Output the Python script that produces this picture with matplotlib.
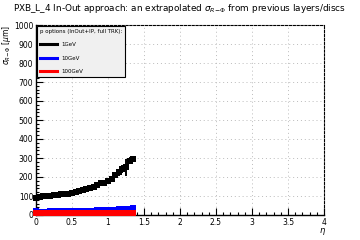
import numpy as np
import matplotlib.pyplot as plt
from matplotlib.ticker import MultipleLocator, AutoMinorLocator, FuncFormatter

eta = [0.00, 0.05, 0.10, 0.15, 0.20, 0.25, 0.30, 0.35, 0.40, 0.45,
       0.50, 0.55, 0.60, 0.65, 0.70, 0.75, 0.80, 0.85, 0.90, 0.95,
       1.00, 1.05, 1.10, 1.15, 1.20, 1.25, 1.30, 1.35]
sig_1gev = [92, 97, 98, 100, 101, 103, 105, 108, 110, 112,
            117, 121, 126, 131, 137, 143, 149, 157, 166, 168,
            180, 190, 210, 225, 243, 252, 285, 295]
err_1gev = [8, 8, 7, 7, 7, 7, 8, 8, 8, 8,
            9, 9, 9, 10, 10, 10, 11, 11, 12, 15,
            14, 15, 16, 18, 20, 45, 18, 15]
sig_10gev = [20, 15, 18, 16, 19, 20, 20, 20, 21, 21,
             21, 22, 22, 22, 23, 23, 23, 24, 25, 26,
             27, 27, 28, 29, 31, 33, 32, 35]
err_10gev = [3] * 28
sig_100gev = [10, 9, 9, 9, 9, 9, 9, 9, 10, 10,
              10, 10, 10, 10, 10, 10, 10, 10, 10, 10,
              10, 10, 10, 10, 10, 11, 11, 11]
err_100gev = [3] * 28

labels = ["1GeV", "10GeV", "100GeV"]
colors = ["black", "#0000ff", "#ff0000"]

fig = plt.figure(figsize=(3.6, 2.4), dpi=100)
ax = fig.add_axes([36 / 360, 25 / 240, 288 / 360, 190 / 240])

series = [(sig_1gev, err_1gev), (sig_10gev, err_10gev), (sig_100gev, err_100gev)]
handles = []
for (y, e), c, lab in zip(series, colors, labels):
    ax.errorbar(eta, y, yerr=e, fmt="s", color=c, ms=4.6, mew=0,
                elinewidth=1.4, capsize=0, zorder=3, clip_on=False)
    h, = ax.plot([], [], color=c, lw=2.2, label=lab)
    handles.append(h)

ax.set_xlim(0, 4)
ax.set_ylim(0, 1000)
ax.xaxis.set_major_locator(MultipleLocator(0.5))
ax.xaxis.set_minor_locator(AutoMinorLocator(5))
ax.xaxis.set_major_formatter(FuncFormatter(lambda v, p: f"{v:g}"))
ax.yaxis.set_major_locator(MultipleLocator(100))
ax.yaxis.set_minor_locator(AutoMinorLocator(5))
ax.tick_params(which="both", direction="in", top=False, right=False,
               labelsize=5.5, pad=2, width=0.8)
ax.tick_params(which="major", length=5)
ax.tick_params(which="minor", length=2.5)
ax.grid(True, which="major", color="#bbbbbb", ls=(0, (1, 3)), lw=0.7)
for s in ["top", "right"]:
    ax.spines[s].set_linestyle((0, (2, 1.5)))
    ax.spines[s].set_linewidth(0.8)
for s in ["left", "bottom"]:
    ax.spines[s].set_linewidth(1.0)

fig.text(0.5, 0.965, r"PXB_L_4 In-Out approach: an extrapolated $\sigma_{R\!-\!\Phi}$ from previous layers/discs",
         ha="center", va="center", fontsize=6.4)
fig.text(0.018, 0.895, r"$\sigma_{R\!-\!\Phi}$ [$\mu$m]", rotation=90,
         ha="center", va="top", fontsize=5.5)
fig.text(0.895, 0.035, r"$\eta$", ha="center", va="center", fontsize=6)

leg = ax.legend(handles=handles, loc="upper left", bbox_to_anchor=(0.0, 1.0),
                title="p options (InOut+IP, full TRK):", fontsize=4,
                title_fontsize=4, frameon=True, fancybox=False,
                edgecolor="black", facecolor="#f0f0f0", framealpha=1,
                handlelength=3, labelspacing=1.5, borderpad=0.6,
                borderaxespad=0.1)
leg._legend_box.align = "left"
leg.get_frame().set_linewidth(0.8)

fig.savefig("out.png", dpi=100)
